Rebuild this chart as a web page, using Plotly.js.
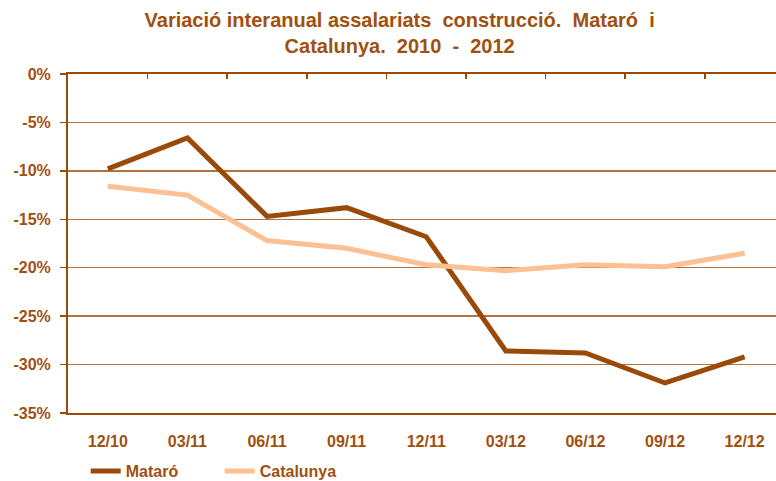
<!DOCTYPE html>
<html>
<head>
<meta charset="utf-8">
<script src="https://cdn.plot.ly/plotly-3.0.1.min.js"></script>
<style>html,body{margin:0;padding:0;background:#fff}#chart{width:776px;height:481px}</style>
</head>
<body>
<div id="chart"></div>
<script>
var categories = ["12/10","03/11","06/11","09/11","12/11","03/12","06/12","09/12","12/12"];
var mataro = [-9.8, -6.6, -14.7, -13.8, -16.8, -28.6, -28.8, -31.9, -29.2];
var catalunya = [-11.6, -12.5, -17.2, -18.0, -19.7, -20.3, -19.7, -19.9, -18.5];
var yTickVals = [0, -5, -10, -15, -20, -25, -30, -35];
var yTickText = ["0%", "-5%", "-10%", "-15%", "-20%", "-25%", "-30%", "-35%"];

var brown = "#9A4A08";
var peach = "#FDC093";
var textCol = "#A0500F";
var fontFam = "'Liberation Sans', Arial, sans-serif";

var traces = [
  {x: categories, y: mataro, name: "Mataró", type: "scatter", mode: "lines",
   line: {color: brown, width: 5}, cliponaxis: false},
  {x: categories, y: catalunya, name: "Catalunya", type: "scatter", mode: "lines",
   line: {color: peach, width: 5}, cliponaxis: false},
  {x: categories, y: mataro, xaxis: "x2", yaxis: "y", type: "scatter", mode: "lines",
   line: {color: "rgba(0,0,0,0)", width: 0}, showlegend: false, hoverinfo: "skip"}
];

var layout = {
  width: 776, height: 481,
  margin: {l: 68, r: 0, t: 74, b: 68, autoexpand: false},
  paper_bgcolor: "#fff", plot_bgcolor: "#fff",
  font: {family: fontFam, color: textCol, size: 16, weight: "bold"},
  title: {text: "Variació interanual assalariats  construcció.  Mataró  i<br>Catalunya.  2010  -  2012",
          font: {family: fontFam, size: 20, color: textCol, weight: "bold"},
          x: 0.515, xanchor: "center", yref: "container", y: 0.944, yanchor: "top", pad: {t: 0, b: 0}},
  xaxis: {type: "category", range: [-0.5, 8.394], showgrid: false, zeroline: false,
          showline: true, linecolor: brown, linewidth: 2, ticks: "",
          tickfont: {family: fontFam, size: 16, color: textCol, weight: "bold"}, ticklabelstandoff: 13},
  xaxis2: {type: "category", overlaying: "x", side: "top", range: [-0.5, 8.394],
           showline: true, linecolor: brown, linewidth: 2, showgrid: false, zeroline: false,
           ticks: "inside", tickson: "boundaries", ticklen: 5, tickwidth: 1.5, tickcolor: brown,
           showticklabels: false},
  yaxis: {range: [-35, 0], tickvals: yTickVals, ticktext: yTickText, showgrid: true,
          gridcolor: "#B3723F", gridwidth: 1.5, zeroline: false, showline: true,
          linecolor: brown, linewidth: 2, ticks: "outside", ticklen: 6, tickwidth: 1.5, tickcolor: brown,
          tickfont: {family: fontFam, size: 16, color: textCol, weight: "bold"}, ticklabelstandoff: 6},
  legend: {orientation: "h", x: 0.025, xanchor: "left", y: -0.121, yanchor: "top",
           font: {family: fontFam, size: 16, color: textCol, weight: "bold"},
           entrywidth: 89, entrywidthmode: "pixels", tracegroupgap: 0, bgcolor: "rgba(0,0,0,0)"},
  showlegend: true
};

Plotly.newPlot("chart", traces, layout, {displayModeBar: false, staticPlot: true});
</script>
</body>
</html>
